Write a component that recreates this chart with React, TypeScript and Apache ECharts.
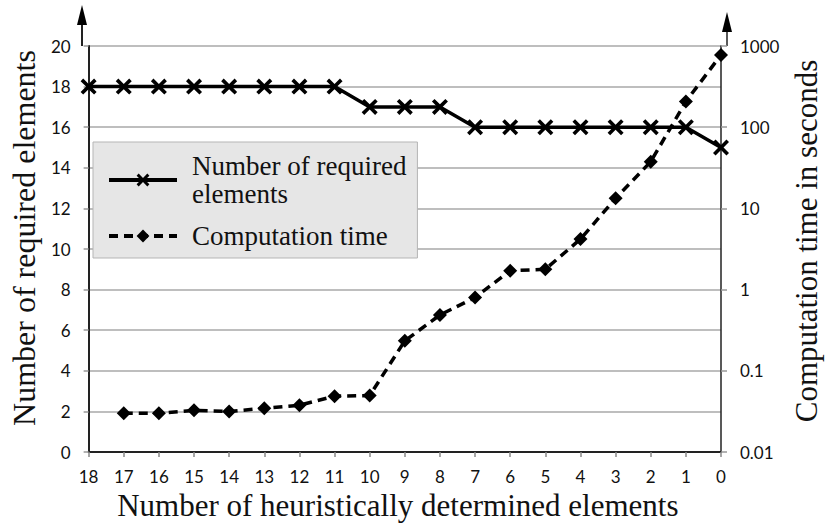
import React, { useEffect, useRef } from "react";
import * as echarts from "echarts";

const categories = ["18", "17", "16", "15", "14", "13", "12", "11", "10", "9", "8", "7", "6", "5", "4", "3", "2", "1", "0"];
const requiredElements = [18, 18, 18, 18, 18, 18, 18, 18, 17, 17, 17, 16, 16, 16, 16, 16, 16, 16, 15];
const computationTime: (number | null)[] = [null, 0.03, 0.03, 0.0326, 0.0316, 0.0345, 0.0376, 0.0487, 0.0495, 0.234, 0.487, 0.8, 1.71, 1.78, 4.19, 13.3, 37.6, 207, 776];
const leftTicks = { min: 0, max: 20, interval: 2 };
const rightTicks = { min: 0.01, max: 1000 };

const SERIF = "Liberation Serif";
const SANS = "Lato";
const CROSS = "path://M0,1.6L1.6,0L5,3.4L8.4,0L10,1.6L6.6,5L10,8.4L8.4,10L5,6.6L1.6,10L0,8.4L3.4,5Z";

const GL = 82, GR = 727, GT = 46, GB = 452;

export default function App() {
  const ref = useRef<HTMLDivElement>(null);
  useEffect(() => {
    if (!ref.current) return;
    const chart = echarts.init(ref.current, null, { renderer: "svg" });
    chart.setOption({
      animation: false,
      backgroundColor: "#ffffff",
      grid: { left: GL, right: 830 - GR, top: GT, bottom: 528 - GB },
      legend: {
        orient: "vertical",
        left: 93,
        top: 142,
        backgroundColor: "#e6e6e6",
        borderColor: "#b5b5b5",
        borderWidth: 1,
        padding: [10, 11, 8, 14],
        itemGap: 14,
        itemWidth: 68,
        itemHeight: 16,
        lineStyle: { width: 4 },
        textStyle: { fontFamily: SERIF, fontSize: 27, lineHeight: 28, color: "#111", padding: [0, 0, 0, 10] },
        data: [
          { name: "Number of required\nelements" },
          { name: "Computation time" },
        ],
      },
      xAxis: {
        type: "category",
        data: categories,
        boundaryGap: false,
        name: "Number of heuristically determined elements",
        nameLocation: "middle",
        nameGap: 37,
        nameTextStyle: { fontFamily: SERIF, fontSize: 31, color: "#111", padding: [0, 14, 0, 0] },
        axisLine: { lineStyle: { color: "#222", width: 2 } },
        axisTick: { show: true, interval: 0, length: 5, lineStyle: { color: "#888", width: 1.5 } },
        axisLabel: { interval: 0, margin: 16, fontFamily: SANS, fontSize: 17, color: "#111" },
        splitLine: { show: false },
      },
      yAxis: [
        {
          type: "value",
          ...leftTicks,
          position: "left",
          name: "Number of required elements",
          nameLocation: "middle",
          nameRotate: 90,
          nameGap: 44,
          nameTextStyle: { fontFamily: SERIF, fontSize: 32, color: "#111", padding: [0, 0, 0, 22] },
          axisLine: { show: true, lineStyle: { color: "#222", width: 2 } },
          axisTick: { show: true, length: 5, lineStyle: { color: "#999", width: 1.5 } },
          axisLabel: { margin: 18, fontFamily: SANS, fontSize: 17, color: "#111" },
          splitLine: { show: true, lineStyle: { color: "#a8a8a8", width: 1.5 } },
        },
        {
          type: "log",
          logBase: 10,
          ...rightTicks,
          position: "right",
          name: "Computation time in seconds",
          nameLocation: "middle",
          nameRotate: 90,
          nameGap: 70,
          nameTextStyle: { fontFamily: SERIF, fontSize: 31, color: "#111", padding: [0, 0, 0, 16] },
          axisLine: { show: true, lineStyle: { color: "#222", width: 1.5 } },
          axisTick: { show: true, length: 6, lineStyle: { color: "#999", width: 1.5 } },
          axisLabel: { margin: 19, fontFamily: SANS, fontSize: 17, color: "#111", formatter: (v: number) => String(v) },
          splitLine: { show: false },
        },
      ],
      series: [
        {
          name: "Number of required\nelements",
          type: "line",
          yAxisIndex: 0,
          data: requiredElements,
          symbol: CROSS,
          symbolSize: 16,
          showAllSymbol: true,
          itemStyle: { color: "#000" },
          lineStyle: { color: "#000", width: 3.5 },
          z: 3,
        },
        {
          name: "Computation time",
          type: "line",
          yAxisIndex: 1,
          data: computationTime,
          symbol: "diamond",
          symbolSize: 14,
          showAllSymbol: true,
          itemStyle: { color: "#000" },
          lineStyle: { color: "#000", width: 3.5, type: [9, 6] },
          z: 4,
        },
      ],
      graphic: [
        { type: "line", shape: { x1: GL, y1: GT, x2: GL, y2: 22 }, style: { stroke: "#222", lineWidth: 2 } },
        { type: "polygon", shape: { points: [[GL, 5], [GL - 5, 25], [GL + 5, 25]] }, style: { fill: "#000" } },
        { type: "line", shape: { x1: GR, y1: GT, x2: GR, y2: 29 }, style: { stroke: "#222", lineWidth: 1.5 } },
        { type: "polygon", shape: { points: [[GR, 12], [GR - 5, 32], [GR + 5, 32]] }, style: { fill: "#000" } },
      ],
    });
    return () => chart.dispose();
  }, []);
  return <div ref={ref} style={{ width: 830, height: 528, position: "absolute", left: 0, top: 0 }} />;
}
